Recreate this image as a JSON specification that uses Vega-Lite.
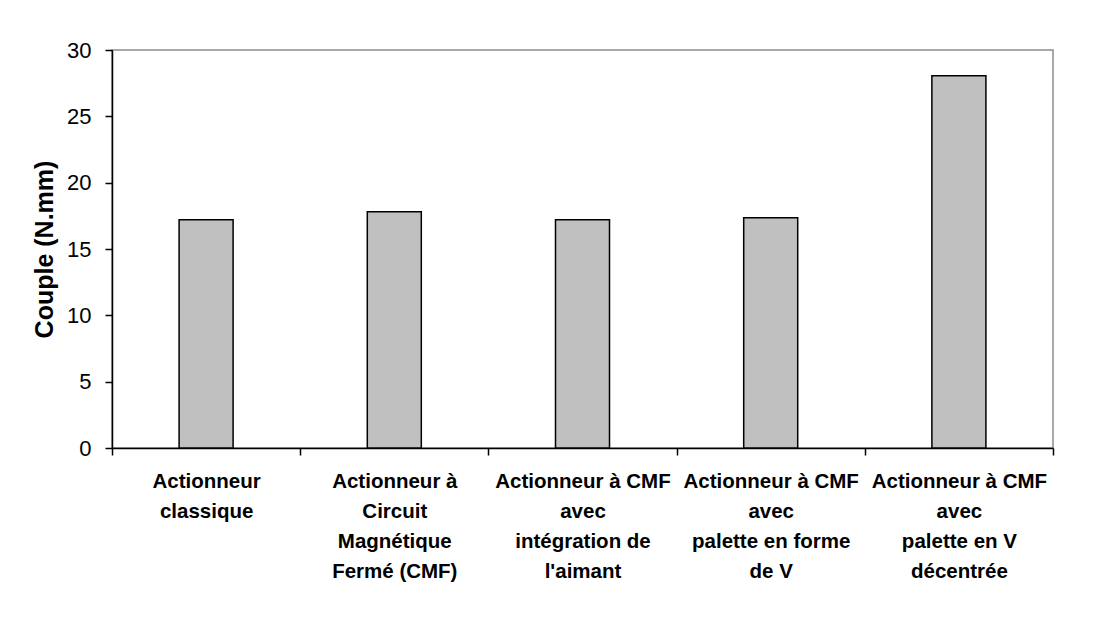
{
  "$schema": "https://vega.github.io/schema/vega-lite/v6.json",
  "autosize": {"type": "none"},
  "width": 941,
  "height": 398,
  "padding": {"left": 112, "top": 50, "right": 43, "bottom": 177},
  "background": "white",
  "config": {
    "font": "Liberation Sans",
    "view": {"stroke": "#8c8c8c", "strokeWidth": 1.5},
    "axis": {"grid": false, "domainColor": "black", "tickColor": "black", "domainWidth": 1.5, "tickWidth": 1.5, "labelColor": "black", "titleColor": "black"}
  },
  "data": {
    "values": [
      {"actionneur": "Actionneur\nclassique", "couple": 17.2},
      {"actionneur": "Actionneur à\nCircuit\nMagnétique\nFermé (CMF)", "couple": 17.8},
      {"actionneur": "Actionneur à CMF\navec\nintégration de\nl'aimant", "couple": 17.2},
      {"actionneur": "Actionneur à CMF\navec\npalette en forme\nde V", "couple": 17.35},
      {"actionneur": "Actionneur à CMF\navec\npalette en V\ndécentrée", "couple": 28.05}
    ]
  },
  "mark": {"type": "bar", "fill": "#c0c0c0", "stroke": "black", "strokeWidth": 1.5, "width": {"band": 0.287}},
  "encoding": {
    "x": {
      "field": "actionneur",
      "type": "nominal",
      "sort": null,
      "scale": {"paddingInner": 0, "paddingOuter": 0},
      "axis": {
        "title": null,
        "labelAngle": 0,
        "labelExpr": "split(datum.label, '\\n')",
        "labelFontSize": 20.5,
        "labelFontWeight": "bold",
        "labelLineHeight": 30,
        "labelPadding": 16,
        "labelLimit": 0,
        "tickBand": "extent",
        "tickSize": 7
      }
    },
    "y": {
      "field": "couple",
      "type": "quantitative",
      "scale": {"domain": [0, 30], "nice": false},
      "axis": {
        "title": "Couple (N.mm)",
        "titleFontSize": 25,
        "titleFontWeight": "bold",
        "titlePadding": 9,
        "values": [0, 5, 10, 15, 20, 25, 30],
        "labelFontSize": 22,
        "labelPadding": 14,
        "tickSize": 7
      }
    }
  }
}
